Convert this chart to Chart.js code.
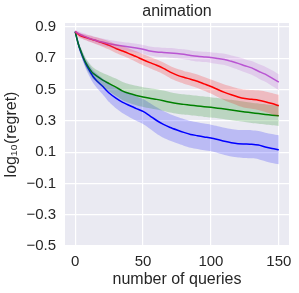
<!DOCTYPE html>
<html>
<head>
<meta charset="utf-8">
<script src="https://cdn.jsdelivr.net/npm/chart.js@4.4.1/dist/chart.umd.min.js"></script>
<style>
html,body{margin:0;padding:0;background:#ffffff;}
#wrap{width:299px;height:293px;}
</style>
</head>
<body>
<div id="wrap"><canvas id="c" width="299" height="293"></canvas></div>
<script>
const queries = [0,1,2,3,4,6,8,10,13,16,20,25,30,35,40,45,50,55,60,65,70,75,80,85,90,95,100,105,110,115,120,125,130,135,140,145,150];

const purpleMean = [.87,.865,.86,.855,.85,.843,.836,.828,.82,.812,.803,.793,.785,.778,.772,.765,.757,.746,.74,.737,.734,.73,.725,.718,.712,.708,.704,.698,.692,.68,.667,.652,.638,.617,.598,.573,.547];
const purpleSpread = [.01,.012,.014,.015,.016,.018,.019,.02,.021,.022,.023,.024,.025,.026,.027,.028,.028,.029,.03,.03,.031,.031,.032,.032,.033,.033,.034,.035,.036,.038,.04,.042,.044,.046,.048,.05,.05];

const redMean = [.87,.862,.855,.848,.843,.837,.832,.826,.818,.81,.798,.782,.762,.746,.728,.71,.69,.672,.655,.635,.611,.592,.578,.566,.553,.536,.519,.5,.482,.466,.452,.442,.437,.432,.422,.41,.396];
const redSpread = [.01,.012,.014,.015,.016,.017,.018,.02,.021,.023,.025,.027,.029,.031,.032,.034,.035,.036,.037,.038,.039,.04,.041,.042,.043,.044,.045,.048,.05,.053,.055,.058,.06,.063,.066,.068,.07];

const greenMean = [.87,.835,.80,.772,.75,.705,.668,.64,.605,.585,.562,.538,.515,.49,.474,.462,.452,.444,.437,.428,.418,.41,.405,.4,.395,.39,.386,.381,.375,.369,.363,.357,.351,.346,.341,.336,.332];
const greenSpread = [.005,.01,.015,.02,.022,.027,.03,.033,.037,.04,.045,.05,.055,.058,.06,.062,.063,.064,.065,.065,.065,.065,.065,.065,.065,.065,.065,.065,.065,.065,.065,.065,.065,.065,.065,.065,.065];

const blueMean = [.87,.835,.80,.77,.745,.70,.66,.628,.585,.555,.522,.478,.445,.418,.398,.378,.36,.332,.302,.277,.257,.241,.226,.213,.205,.197,.19,.18,.169,.16,.154,.152,.15,.145,.133,.123,.115];
const blueSpread = [.005,.01,.015,.02,.022,.026,.03,.035,.04,.045,.05,.058,.065,.07,.075,.078,.08,.082,.084,.085,.085,.085,.085,.085,.085,.085,.085,.086,.087,.088,.088,.089,.09,.09,.091,.092,.092];

const yTicks = [-0.5,-0.3,-0.1,0.1,0.3,0.5,0.7,0.9];
const xTicks = [0,50,100,150];
const titleText = 'animation';

const series = [
  {name:'purple', mean: purpleMean, spread: purpleSpread, color:'#BA55D3', rgb:'186,85,211'},
  {name:'red', mean: redMean, spread: redSpread, color:'#FF0000', rgb:'255,0,0'},
  {name:'green', mean: greenMean, spread: greenSpread, color:'#008000', rgb:'0,128,0'},
  {name:'blue', mean: blueMean, spread: blueSpread, color:'#0000FF', rgb:'0,0,255'}
];

const datasets = [];
series.forEach(s => {
  datasets.push({
    label: s.name + ' lower',
    data: queries.map((q,i) => ({x:q, y:s.mean[i]-s.spread[i]})),
    borderWidth: 0, pointRadius: 0, fill: false, borderColor: 'rgba(0,0,0,0)', tension: 0.2
  });
  datasets.push({
    label: s.name + ' upper',
    data: queries.map((q,i) => ({x:q, y:s.mean[i]+s.spread[i]})),
    borderWidth: 0, pointRadius: 0, fill: '-1', borderColor: 'rgba(0,0,0,0)',
    backgroundColor: 'rgba(' + s.rgb + ',0.2)', tension: 0.2
  });
});
series.forEach(s => {
  datasets.push({
    label: s.name,
    data: queries.map((q,i) => ({x:q, y:s.mean[i]})),
    borderWidth: 1.5, pointRadius: 0, fill: false, borderColor: s.color, tension: 0.2
  });
});

const font = 'Liberation Sans, Arial, sans-serif';

const bgPlugin = {
  id: 'bg',
  beforeDraw(chart) {
    const {ctx, chartArea:a} = chart;
    ctx.save();
    ctx.fillStyle = '#EAEAF2';
    ctx.fillRect(a.left, a.top, a.right - a.left, a.bottom - a.top);
    ctx.restore();
  },
  afterDraw(chart) {
    const {ctx, chartArea:a} = chart;
    ctx.save();
    ctx.fillStyle = '#262626';
    ctx.font = '16px ' + font;
    ctx.textAlign = 'center';
    ctx.textBaseline = 'middle';
    ctx.fillText(titleText, (a.left + a.right) / 2, 12);
    ctx.restore();
  }
};

const fmt = v => (v < 0 ? '\u2212' : '') + Math.abs(v).toFixed(1);

new Chart(document.getElementById('c'), {
  type: 'line',
  data: { datasets },
  plugins: [bgPlugin],
  options: {
    responsive: false,
    animation: false,
    layout: { padding: { left: 0, right: 10, top: 23, bottom: 0 } },
    plugins: {
      legend: { display: false },
      tooltip: { enabled: false },
      title: { display: false },
      filler: { propagate: false }
    },
    scales: {
      x: {
        type: 'linear', min: -7.5, max: 157.5,
        afterBuildTicks(scale) { scale.ticks = xTicks.map(v => ({value: v})); },
        afterFit(scale) { scale.height = 47; },
        ticks: { includeBounds: false, color: '#262626', padding: 7, font: { family: font, size: 15 }, callback: v => String(v), maxRotation: 0 },
        grid: { color: '#ffffff', lineWidth: 1.2, drawTicks: false },
        border: { display: false },
        title: { display: true, text: 'number of queries', color: '#262626', font: { family: font, size: 16 }, padding: { top: 0, bottom: 4 } }
      },
      y: {
        type: 'linear', min: -0.5, max: 0.925,
        afterBuildTicks(scale) { scale.ticks = yTicks.map(v => ({value: v})); },
        afterFit(scale) { scale.width = 65; },
        ticks: { includeBounds: false, color: '#262626', padding: 9, font: { family: font, size: 15 }, callback: v => fmt(v) },
        grid: { color: '#ffffff', lineWidth: 1.2, drawTicks: false },
        border: { display: false },
        title: { display: true, text: 'log\u2081\u2080(regret)', color: '#262626', font: { family: font, size: 16 }, padding: { top: 2, bottom: 0 } }
      }
    }
  }
});
</script>
</body>
</html>
